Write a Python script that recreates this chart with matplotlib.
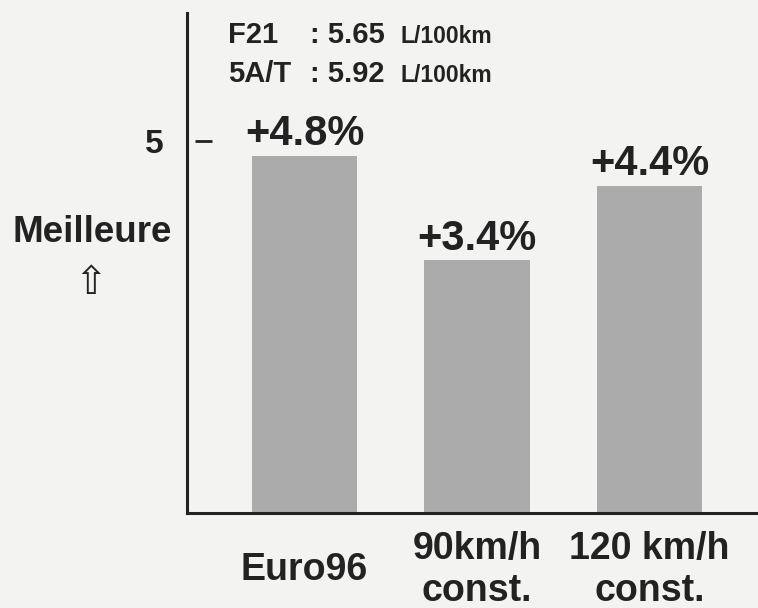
import matplotlib
matplotlib.use("Agg")
import matplotlib.pyplot as plt
from matplotlib import transforms

plt.rcParams['font.family'] = ['Liberation Sans', 'DejaVu Sans']

categories = ["Euro96", "90km/h\nconst.", "120 km/h\nconst."]
values = [4.8, 3.4, 4.4]
value_labels = ["+4.8%", "+3.4%", "+4.4%"]
ytick_vals = [5]
ytick_labels = ["5"]
info_names = ["F21", "5A/T"]
info_values = [": 5.65", ": 5.92"]
info_unit = "L/100km"

bg = "#f3f3f1"
txt = "#222222"
bar_color = "#ababab"

fig = plt.figure(figsize=(7.58, 6.08), dpi=100, facecolor=bg)
W, H = 758, 608
ax = fig.add_axes([187 / W, 1 - 513 / H, (W - 187) / W, (513 - 13) / H])
ax.set_facecolor(bg)

x = list(range(len(categories)))
ax.bar(x, values, width=0.61, color=bar_color, zorder=2)
ax.set_xlim(-0.681, 2.629)
ax.set_ylim(0, 6.72)

for xi, v, lab in zip(x, values, value_labels):
    ax.annotate(lab, (xi, v), xytext=(0, 1), textcoords="offset points",
                ha="center", va="bottom", fontsize=30, fontweight="bold", color=txt)

for s in ["top", "right"]:
    ax.spines[s].set_visible(False)
for s in ["left", "bottom"]:
    ax.spines[s].set_linewidth(2.2)
    ax.spines[s].set_color(txt)

ax.set_xticks(x)
ax.set_xticklabels(categories, fontsize=27, fontweight="bold", color=txt,
                   linespacing=1.2)
for t in ax.get_xticklabels():
    t.set_verticalalignment("center")
    t.set_multialignment("center")
ax.tick_params(axis="x", length=0, pad=41)

ax.set_yticks(ytick_vals)
ax.set_yticklabels(ytick_labels, fontsize=24, fontweight="bold", color=txt)
ax.tick_params(axis="y", length=0, pad=17)

# detached tick dash
tr = transforms.blended_transform_factory(ax.transAxes, ax.transData)
for yv in ytick_vals:
    ax.plot([8 / 571, 25 / 571], [yv, yv], transform=tr, color=txt,
            lw=2.0, clip_on=False, solid_capstyle="butt")

# y-axis caption
fig.text(92 / W, 1 - 232 / H, "Meilleure", ha="center", va="center",
         fontsize=26.5, fontweight="bold", color=txt)
fig.text(91 / W, 1 - 283 / H, "\u21e7", ha="center", va="center",
         fontsize=28, color=txt, family="DejaVu Sans")

# info text
for i, (nm, val) in enumerate(zip(info_names, info_values)):
    yb = 1 - (43 + 39 * i) / H
    fig.text(228 / W, yb, nm, ha="left", va="baseline", fontsize=21,
             fontweight="bold", color=txt)
    fig.text(310 / W, yb, val, ha="left", va="baseline", fontsize=21,
             fontweight="bold", color=txt)
    fig.text(400 / W, yb, info_unit, ha="left", va="baseline", fontsize=16.5,
             fontweight="bold", color=txt)

fig.savefig("out.png", dpi=100, facecolor=bg)
